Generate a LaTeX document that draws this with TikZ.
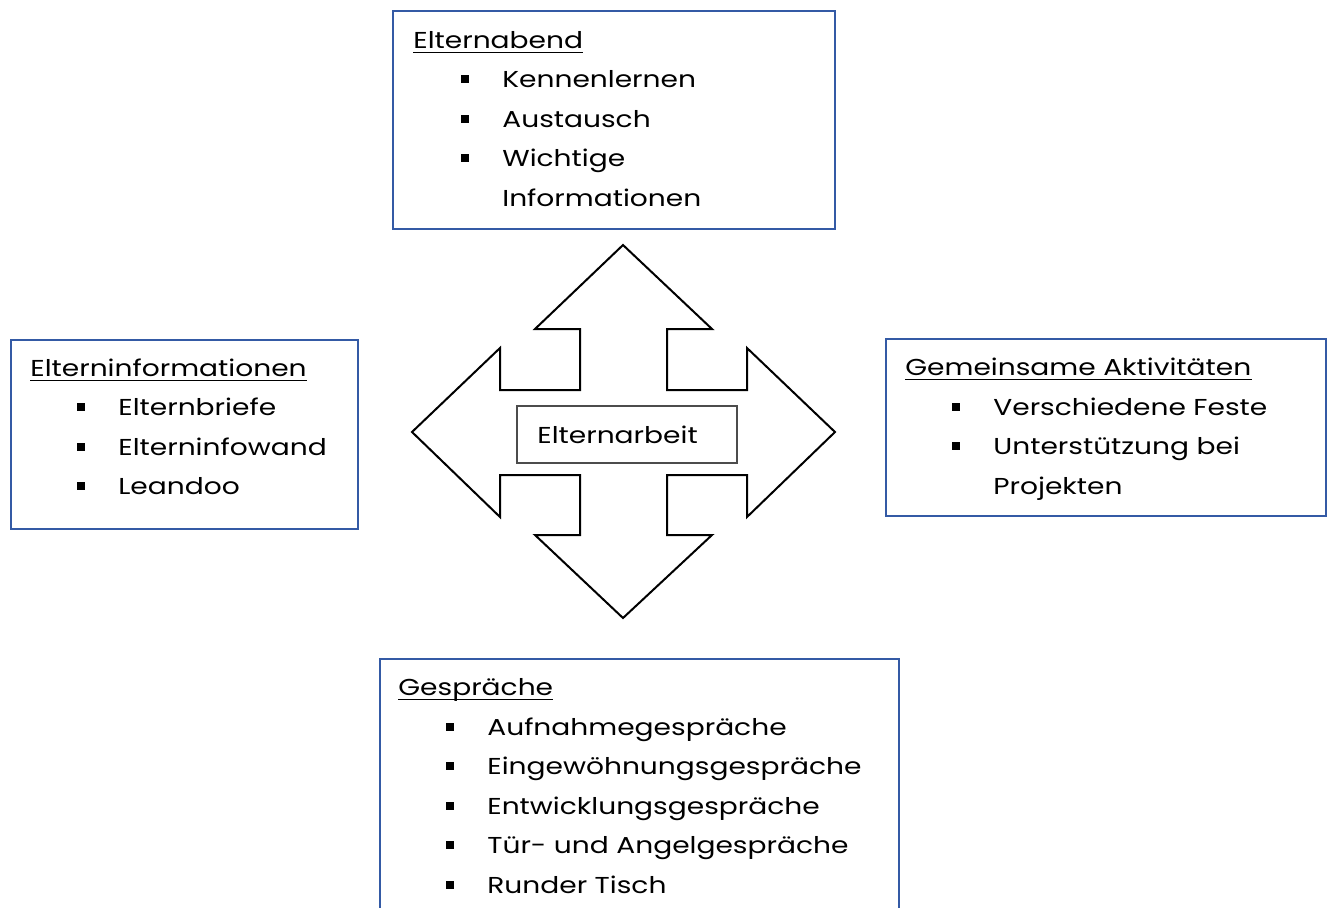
\documentclass[tikz,border=0pt]{standalone}
\usepackage{fontspec}
\setmainfont{Poppins}[FakeStretch=1.22]
\usetikzlibrary{calc,fit}
\definecolor{rahmenblau}{RGB}{52,90,165}

\begin{document}
\begin{tikzpicture}[x=0.02cm, y=-0.02cm,
    kasten/.style={draw=rahmenblau, line width=0.04cm, inner sep=0pt},
    schrift/.style={anchor=base west, inner sep=0pt, font=\fontsize{13.1pt}{16pt}\selectfont},
    punkt/.style={fill=black, inner sep=0pt, minimum size=0.16cm},
    pfeil/.style={draw=black, line width=0.04cm, line join=miter}]

    \useasboundingbox (0,0) rectangle (1328,907);

    % Pfeilkreuz in der Mitte
    \draw[pfeil] (623,245) -- (712,329) -- (667,329) -- (667,390) -- (747,390) -- (747,348)
        -- (835,432) -- (747,517) -- (747,475) -- (667,475) -- (667,535) -- (712,535)
        -- (623,618) -- (535,535) -- (580,535) -- (580,475) -- (500,475) -- (500,517)
        -- (412,432) -- (500,348) -- (500,390) -- (580,390) -- (580,329) -- (535,329) -- cycle;
    \node[draw=gray!60!black, line width=0.025cm, inner sep=0pt, fit={(517,406) (737,463)}] (mitte) {};
    \node[schrift] (mittetext) at (537,443) {Elternarbeit};

    % Kaesten
    \node[kasten, fit={(393,11) (835,229)}] (abend) {};
    \node[kasten, fit={(11,340) (358,529)}] (info) {};
    \node[kasten, fit={(886,339) (1326,516)}] (aktiv) {};
    \node[kasten, fit={(380,659) (899,960)}] (gespr) {};

    % Ueberschriften
    \node[schrift] (abend-titel) at (413,48) {Elternabend};
    \node[schrift] (info-titel) at (30,376) {Elterninformationen};
    \node[schrift] (aktiv-titel) at (905,375.5) {Gemeinsame Aktivitäten};
    \node[schrift] (gespr-titel) at (398,695.5) {Gespräche};
    \foreach \k in {abend,info,aktiv,gespr}
        \draw ([yshift=-0.08cm]\k-titel.base west) -- ([yshift=-0.08cm]\k-titel.base east);

    % Aufzaehlungen
    \foreach \t [count=\i] in {Kennenlernen, Austausch, Wichtige}
        \node[schrift] (abend-\i) at (502,48+39.5*\i) {\t};
    \node[schrift] (abend-4) at (502,48+39.5*4) {Informationen};
    \foreach \t [count=\i] in {Elternbriefe, Elterninfowand, Leandoo}
        \node[schrift] (info-\i) at (118,376+39.5*\i) {\t};
    \foreach \t [count=\i] in {Verschiedene Feste, Unterstützung bei}
        \node[schrift] (aktiv-\i) at (993,375.5+39.5*\i) {\t};
    \node[schrift] (aktiv-3) at (993,375.5+39.5*3) {Projekten};
    \foreach \t [count=\i] in {Aufnahmegespräche, Eingewöhnungsgespräche, Entwicklungsgespräche,
            Tür- und Angelgespräche, Runder Tisch}
        \node[schrift] (gespr-\i) at (487,695.5+39.6*\i) {\t};

    % Punkte vor den Eintraegen
    \foreach \k/\n in {abend/3, info/3, aktiv/2, gespr/5}
        \foreach \i in {1,...,\n}
            \node[punkt] (\k-p\i) at ($(\k-\i.base west)+(-37,-8.5)$) {};

\end{tikzpicture}
\end{document}
